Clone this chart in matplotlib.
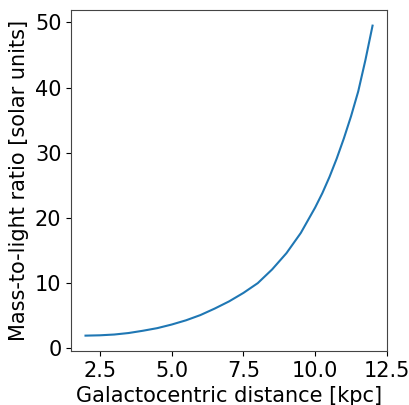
import numpy as np
import matplotlib
matplotlib.use("Agg")
import matplotlib.pyplot as plt

# values
distance = [2.0, 2.5, 3.0, 3.5, 4.0, 4.5, 5.0, 5.5, 6.0, 6.5, 7.0,
            7.5, 8.0, 8.5, 9.0, 9.5, 10.0, 10.25, 10.5, 10.75, 11.0,
            11.25, 11.5, 11.75, 12.0]
ml_ratio = [1.95, 2.0, 2.12, 2.35, 2.7, 3.1, 3.65, 4.3, 5.1, 6.1, 7.2,
            8.5, 10.0, 12.1, 14.6, 17.7, 21.6, 23.8, 26.3, 29.1, 32.2,
            35.6, 39.4, 44.2, 49.5]

plt.rcParams['font.size'] = 15

fig, ax = plt.subplots(figsize=(4.09, 4.05), dpi=100)
fig.subplots_adjust(left=0.174, right=0.946, top=0.975, bottom=0.133)

ax.plot(distance, ml_ratio, color='#1f77b4', lw=1.5)
ax.set_xlabel('Galactocentric distance [kpc]')
ax.set_ylabel('Mass-to-light ratio [solar units]')
ax.set_xticks([2.5, 5.0, 7.5, 10.0, 12.5])
ax.set_yticks([0, 10, 20, 30, 40, 50])
for s in ax.spines.values():
    s.set_edgecolor('#444444')

fig.savefig('out.png', dpi=100)
